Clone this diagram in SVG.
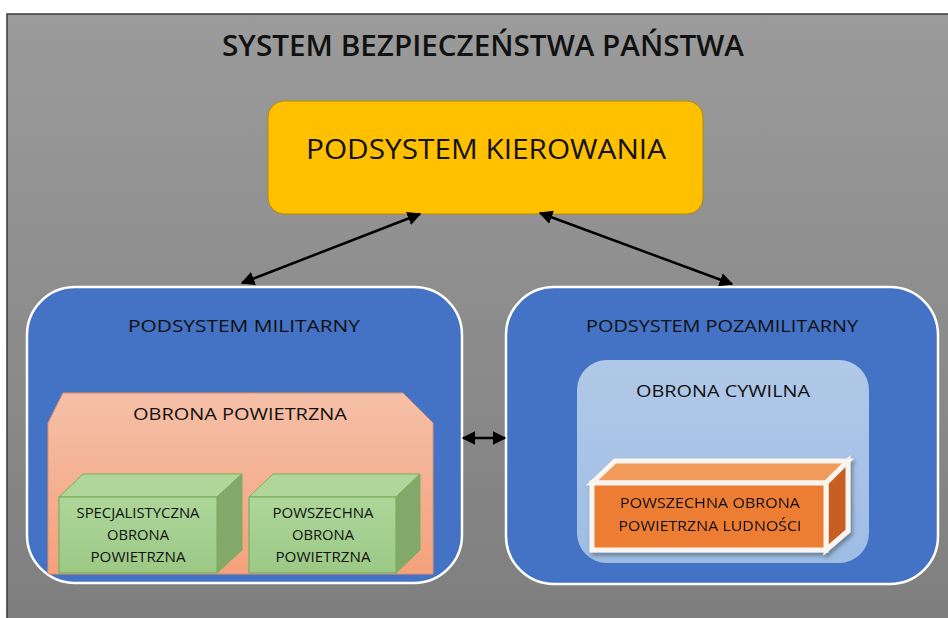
<svg xmlns="http://www.w3.org/2000/svg" width="948" height="618" viewBox="0 0 948 618">
<defs>
<linearGradient id="bg" x1="0" y1="0" x2="0" y2="1"><stop offset="0" stop-color="#9b9b9b"/><stop offset="1" stop-color="#7e7e7e"/></linearGradient>
<linearGradient id="salmon" x1="0" y1="0" x2="0" y2="1"><stop offset="0" stop-color="#f5c0a8"/><stop offset="1" stop-color="#f4a17c"/></linearGradient>
<linearGradient id="green" x1="0" y1="0" x2="0" y2="1"><stop offset="0" stop-color="#aed69a"/><stop offset="1" stop-color="#9bc985"/></linearGradient>
<linearGradient id="lblue" x1="0" y1="0" x2="0" y2="1"><stop offset="0" stop-color="#b1c9e8"/><stop offset="1" stop-color="#9ebde4"/></linearGradient>
<marker id="ah" viewBox="0 0 10 10" refX="9" refY="5" markerWidth="5.5" markerHeight="5.5" orient="auto-start-reverse" markerUnits="strokeWidth"><path d="M0,0 L10,5 L0,10 z" fill="#000"/></marker>
<filter id="sh" x="-10%" y="-10%" width="130%" height="140%"><feDropShadow dx="2" dy="3" stdDeviation="2" flood-color="#000" flood-opacity="0.35"/></filter>
</defs>
<style>
text{font-family:"Open Sans","Liberation Sans",sans-serif;fill:#111;text-anchor:middle}
.conn{stroke:#000;stroke-width:2.5;fill:none;marker-start:url(#ah);marker-end:url(#ah)}
.blue{fill:#4472c4;stroke:#fff;stroke-width:2.5}
.lbl{font-size:17px}
.small{font-size:14px}
</style>
<rect x="7" y="14" width="950" height="620" fill="url(#bg)" stroke="#3a3a3a" stroke-width="1.5"/>
<text x="483" y="56" font-size="29" font-weight="600" textLength="522" lengthAdjust="spacingAndGlyphs">SYSTEM BEZPIECZEŃSTWA PAŃSTWA</text>
<g id="kierowanie">
<rect x="268" y="101" width="435" height="113" rx="16" fill="#ffc000" stroke="#b08a10" stroke-width="1"/>
<text x="486" y="159" font-size="28" textLength="360" lengthAdjust="spacingAndGlyphs">PODSYSTEM KIEROWANIA</text>
</g>
<g id="militarny">
<rect class="blue" x="27" y="287" width="435" height="296" rx="48"/>
<text class="lbl" x="244" y="332" textLength="232" lengthAdjust="spacingAndGlyphs">PODSYSTEM MILITARNY</text>
</g>
<g id="pozamilitarny">
<rect class="blue" x="506" y="287" width="432" height="297" rx="48"/>
<text class="lbl" x="722" y="332" textLength="272" lengthAdjust="spacingAndGlyphs">PODSYSTEM POZAMILITARNY</text>
</g>
<g id="obrona-powietrzna">
<polygon points="48,423 63,393 403,393 433,423 433,574 48,574" fill="url(#salmon)" stroke="#e8916a" stroke-width="1"/>
<text class="lbl" x="240" y="420" textLength="214" lengthAdjust="spacingAndGlyphs">OBRONA POWIETRZNA</text>
</g>
<g id="specjalistyczna">
<polygon points="59,497 83,474 242,474 217,497" fill="#b0d69c" stroke="#78b05a" stroke-width="1"/>
<polygon points="217,497 242,474 242,550 217,573" fill="#82a86a" stroke="#78b05a" stroke-width="1"/>
<rect x="59" y="497" width="158" height="76" fill="url(#green)" stroke="#78b05a" stroke-width="1.2"/>
<text class="small" x="138" y="518" textLength="123" lengthAdjust="spacingAndGlyphs">SPECJALISTYCZNA</text>
<text class="small" x="138" y="540" textLength="62" lengthAdjust="spacingAndGlyphs">OBRONA</text>
<text class="small" x="138" y="562" textLength="95" lengthAdjust="spacingAndGlyphs">POWIETRZNA</text>
</g>
<g id="powszechna">
<polygon points="249,497 273,474 420,474 396,497" fill="#b0d69c" stroke="#78b05a" stroke-width="1"/>
<polygon points="396,497 420,474 420,550 396,573" fill="#82a86a" stroke="#78b05a" stroke-width="1"/>
<rect x="249" y="497" width="147" height="76" fill="url(#green)" stroke="#78b05a" stroke-width="1.2"/>
<text class="small" x="323" y="518" textLength="101" lengthAdjust="spacingAndGlyphs">POWSZECHNA</text>
<text class="small" x="323" y="540" textLength="62" lengthAdjust="spacingAndGlyphs">OBRONA</text>
<text class="small" x="323" y="562" textLength="95" lengthAdjust="spacingAndGlyphs">POWIETRZNA</text>
</g>
<g id="obrona-cywilna">
<rect x="577" y="360" width="292" height="203" rx="30" fill="url(#lblue)"/>
<text class="lbl" x="723" y="397" textLength="174" lengthAdjust="spacingAndGlyphs">OBRONA CYWILNA</text>
</g>
<g id="ludnosc" filter="url(#sh)">
<polygon points="592,483 615,461 848,461 826,483" fill="#f19b5a" stroke="#fbf5f0" stroke-width="5" stroke-linejoin="miter"/>
<polygon points="826,483 848,461 848,531 826,550" fill="#c55f22" stroke="#fbf5f0" stroke-width="5"/>
<rect x="592" y="483" width="234" height="67" fill="#ed7d31" stroke="#fbf5f0" stroke-width="5"/>
<text x="710" y="508" font-size="14" textLength="180" lengthAdjust="spacingAndGlyphs">POWSZECHNA OBRONA</text>
<text x="710" y="531" font-size="14" textLength="183" lengthAdjust="spacingAndGlyphs">POWIETRZNA LUDNOŚCI</text>
</g>
<g id="connectors">
<line class="conn" x1="420" y1="214" x2="242" y2="283"/>
<line class="conn" x1="540" y1="213" x2="732" y2="284"/>
<line class="conn" x1="463" y1="438" x2="505" y2="438"/>
</g>
</svg>
